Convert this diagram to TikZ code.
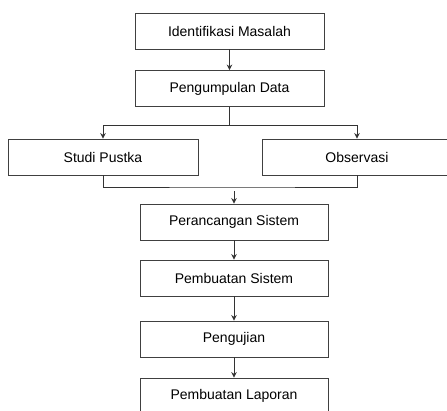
\documentclass[tikz,border=0pt]{standalone}
\usepackage{fontspec}
\setmainfont{Liberation Sans}
\usepackage{tikz}
\usetikzlibrary{arrows.meta}

\begin{document}
\begin{tikzpicture}[x=1pt, y=1pt, >={Stealth[length=5.5pt, width=5.5pt]}, line width=0.9pt,
	box/.style={rectangle, draw=black!75, minimum height=36pt, inner sep=0pt, font=\fontsize{14}{16}\selectfont}]
			\useasboundingbox (0,0) rectangle (447,-410);
			\clip (0,0) rectangle (447,-410);
			
			\node[box, minimum width=189pt] (identifikasi) at (229.5,-31) {Identifikasi Masalah};
			\node[box, minimum width=189pt] (pengumpulan) at (229.5,-88.5) {Pengumpulan Data};
			\node[box, minimum width=190pt] (studi) at (103,-157) {Studi Pustka};
			\node[box, minimum width=190pt] (observasi) at (357,-157) {Observasi};
			\node[box, minimum width=188pt] (perancangan) at (234,-222) {Perancangan Sistem};
			\node[box, minimum width=188pt] (pembuatan) at (234,-278) {Pembuatan Sistem};
			\node[box, minimum width=188pt] (pengujian) at (234,-339) {Pengujian};
			\node[box, minimum width=188pt] (laporan) at (234,-396) {Pembuatan Laporan};
			
			\coordinate (bagi) at (229.5,-125);
			\coordinate (gabung) at (234,-187);
			\coordinate (mulai) at (234,-191);
			
			\draw[->, black!80] (identifikasi) -- (pengumpulan);
			\draw[black!80] (pengumpulan) -- (bagi);
			\draw[->, black!80] (bagi) -| (studi);
			\draw[->, black!80] (bagi) -| (observasi);
			\draw[black!80] (studi) |- (gabung) -| (observasi);
			\draw[->, black!80] (mulai) -- (perancangan);
			\draw[->, black!80] (perancangan) -- (pembuatan);
			\draw[->, black!80] (pembuatan) -- (pengujian);
			\draw[->, black!80] (pengujian) -- (laporan);
		\end{tikzpicture}
\end{document}
